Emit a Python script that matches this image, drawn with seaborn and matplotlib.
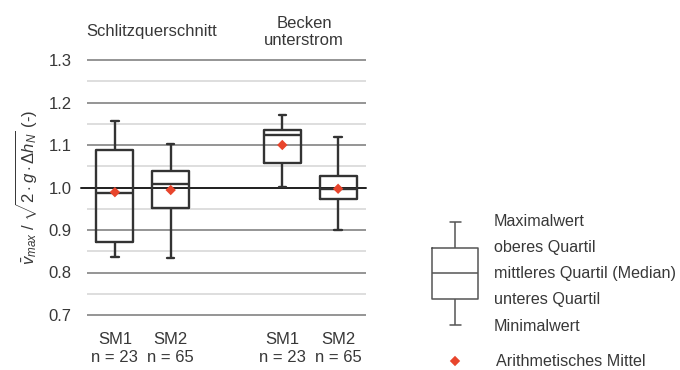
import numpy as np
import pandas as pd
import matplotlib
matplotlib.use("Agg")
import matplotlib.pyplot as plt
import seaborn as sns

# Five-number summaries and means per measurement series
groups = ["Schlitzquerschnitt", "Schlitzquerschnitt", "Becken\nunterstrom", "Becken\nunterstrom"]
variants = ["SM1", "SM2", "SM1", "SM2"]
counts = [23, 65, 23, 65]
minimum = [0.837, 0.834, 1.001, 0.901]
lower_q = [0.872, 0.952, 1.058, 0.974]
median = [0.988, 1.008, 1.124, 0.996]
upper_q = [1.088, 1.040, 1.135, 1.027]
maximum = [1.157, 1.102, 1.171, 1.120]
mean = [0.989, 0.994, 1.100, 0.997]

y_ticks = [0.7, 0.8, 0.9, 1.0, 1.1, 1.2, 1.3]
legend_labels = ["Maximalwert", "oberes Quartil", "mittleres Quartil (Median)",
                 "unteres Quartil", "Minimalwert"]
mean_label = "Arithmetisches Mittel"

# layout: slot of each box on the x axis (gap between the two groups)
slots = [0, 1, 3, 4]

sns.set_theme(style="white")
plt.rcParams["font.family"] = ["Liberation Sans", "DejaVu Sans"]
plt.rcParams["mathtext.fontset"] = "custom"
plt.rcParams["mathtext.rm"] = "Liberation Sans"
plt.rcParams["mathtext.it"] = "Liberation Sans:italic"
plt.rcParams["mathtext.bf"] = "Liberation Sans:bold"

TEXT = "#383838"
BOX = "#333333"
RED = "#e8452c"
FS = 12
FS_KEY = 11.6

W, H = 680, 370
fig = plt.figure(figsize=(W / 100, H / 100), dpi=100)

# main axes: 1.3 at y=60 px, 0.7 at y=315 px
y0, y1 = 0.69, 1.31
px_per = 425.0
top_px = 60 - (y1 - 1.3) * px_per
bot_px = 315 + (0.7 - y0) * px_per
ax = fig.add_axes([87 / W, 1 - bot_px / H, (366 - 87) / W, (bot_px - top_px) / H])

# each box drawn from its five statistics; percentiles of five points
# reproduce the quartiles exactly, whiskers span min..max
rows = []
for s, a, b, c, d, e in zip(slots, minimum, lower_q, median, upper_q, maximum):
    for v in (a, b, c, d, e):
        rows.append({"slot": s, "value": v})
df = pd.DataFrame(rows)

# grid lines
for v in np.arange(0.7, 1.301, 0.05):
    v = round(v, 2)
    if abs(v - 1.0) < 1e-9:
        continue
    major = abs(v * 10 - round(v * 10)) < 1e-6
    ax.axhline(v, color="#8c8c8c" if major else "#d4d4d4",
               lw=1.3 if major else 1.1, zorder=0)
ax.axhline(1.0, xmin=-0.02, xmax=1.0, color="#1e1e1e", lw=1.4, zorder=1, clip_on=False)

sns.boxplot(data=df, x="slot", y="value", native_scale=True, whis=(0, 100),
            width=0.66, fill=False, color=BOX, linewidth=1.7,
            capwidths=0.13, ax=ax, zorder=3)

sns.scatterplot(x=slots, y=mean, marker="D", s=28, color=RED,
                edgecolor="none", ax=ax, zorder=5, legend=False)

ax.set_xlim(-0.5, 4.5)
ax.set_ylim(y0, y1)
ax.set_yticks(y_ticks)
ax.set_yticklabels([f"{t:.1f}" for t in y_ticks], fontsize=FS, color=TEXT)
ax.set_xticks(slots)
ax.set_xticklabels([f"{v}\nn = {n}" for v, n in zip(variants, counts)],
                   fontsize=FS, color=TEXT, linespacing=1.25)
ax.tick_params(axis="y", length=0, pad=11)
ax.tick_params(axis="x", length=0, pad=9.5)
for sp in ax.spines.values():
    sp.set_visible(False)
ax.set_xlabel("")
ax.set_ylabel(r"$\bar{v}_{max}$ / $\sqrt{2 \cdot g \cdot \Delta h_N}$ (-)",
              fontsize=FS, color=TEXT, labelpad=6)

# group headers
ax.text(0.66, 1.366, groups[0], ha="center", va="center", fontsize=FS, color=TEXT)
ax.text(3.39, 1.366, groups[2], ha="center", va="center", fontsize=FS, color=TEXT,
        linespacing=1.2)

# explanatory key, drawn in pixel-like coordinates
lax = fig.add_axes([400 / W, 0, 280 / W, 170 / H])
key_levels = [222, 248, 273, 299, 325]
sns.boxplot(x=[455] * 5, y=key_levels, native_scale=True, whis=(0, 100),
            width=46, fill=False, color="#555555", linewidth=1.1,
            capwidths=11, ax=lax)
for lvl, lab in zip([221, 247, 273, 299, 326], legend_labels):
    lax.text(494, lvl, lab, ha="left", va="center", fontsize=FS_KEY, color=TEXT)
sns.scatterplot(x=[455], y=[361], marker="D", s=28, color=RED,
                edgecolor="none", ax=lax, legend=False)
lax.text(496, 361, mean_label, ha="left", va="center", fontsize=FS_KEY, color=TEXT)
lax.set_xlim(400, 680)
lax.set_ylim(370, 200)
lax.axis("off")

fig.savefig("out.png", dpi=100)
